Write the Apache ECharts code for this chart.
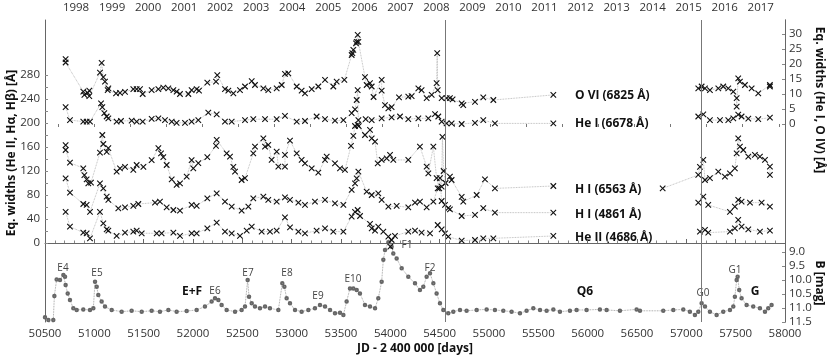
<!DOCTYPE html>
<html>
<head>
<meta charset="utf-8">
<script src="https://cdn.jsdelivr.net/npm/echarts@6/dist/echarts.min.js"></script>
<style>
  html, body { margin: 0; padding: 0; background: #fff; }
  #chart { width: 830px; height: 359px; }
</style>
</head>
<body>
<div id="chart"></div>
<script>
// Daten: [JD - 2400000, Wert]; null trennt die Linie
var yearTicks = [1998, 1999, 2000, 2001, 2002, 2003, 2004, 2005, 2006, 2007, 2008, 2009, 2010, 2011, 2012, 2013, 2014, 2015, 2016, 2017];
var ewTicks = [0, 40, 80, 120, 160, 200, 240, 280];
var rightTicks = [0, 5, 10, 15, 20, 25, 30];
var magTicks = [9.0, 9.5, 10.0, 10.5, 11.0, 11.5];
var dividers = [54554, 57155];

var ovi = [[50709,21.6],[50709,20.5],[50888,10.8],[50899,9.7],[50932,10.4],[50949,11.1],[50949,9.3],[51057,17.1],[51074,20.4],[51091,15.6],[51108,14.1],[51135,11.3],[51142,11.9],[51220,10.2],[51260,10.4],[51311,10.7],[51395,11.6],[51429,11.6],[51463,11.6],[51490,10],[51581,11.3],[51649,11.6],[51699,12.1],[51750,11.9],[51801,11.3],[51834,10.8],[51868,10],[51953,10],[51986,11.3],[52037,11.6],[52061,11.1],[52145,13.8],[52233,14.1],[52246,16.3],[52324,11.6],[52358,11.1],[52409,10.2],[52476,11.3],[52527,12.5],[52595,14.3],[52628,13],[52713,11.9],[52763,11.3],[52848,11.9],[52899,13],[52932,16.7],[52966,16.9],[53051,12.5],[53101,11.1],[53135,10.2],[53203,11.6],[53270,12.5],[53338,14.7],[53422,12.5],[53456,14.1],[53534,14.7],[53608,23],[53615,23.6],[53625,24.7],[53652,26.9],[53659,27.4],[53669,29.7],[53676,27.4],[53743,15.6],[53760,13],[53794,13.6],[53811,12.5],[53830,9],[53912,14.7],[53912,11.1],[53946,6.3],[53980,5.2],[54013,5.6],[54088,8.9],[54182,9.1],[54216,9.3],[54284,11.9],[54317,11.3],[54368,8.6],[54419,9.7],[54469,13.6],[54475,23.6],[54480,11.3],[54520,8.6],[54571,8.6],[54604,8.6],[54631,8.2],[54723,6.9],[54739,6.3],[54858,7.4],[54942,8.9],[55044,8],[55652,9.7],null,[57121,11.9],[57155,12.5],[57189,11.9],[57239,11.3],[57324,11.9],[57374,12.5],[57425,11.9],[57476,10.8],[57510,8.6],[57510,5.8],[57526,15.2],[57543,14.1],[57594,13],[57662,11.9],[57729,10.2],[57847,13],[57847,12.5]];

var hei = [[50709,5.6],[50753,1.3],[50888,0.8],[50922,0.8],[50956,0.8],[51068,6.9],[51081,5.6],[51101,3.6],[51125,2.5],[51142,1.9],[51226,0.8],[51270,1],[51378,1.1],[51429,0.8],[51490,0.8],[51581,1.7],[51649,1.9],[51716,1.3],[51784,0.8],[51834,0.4],[51919,0.4],[51986,0.8],[52054,1.3],[52155,3.8],[52240,3.2],[52324,0.8],[52392,0.8],[52527,1.3],[52611,1.6],[52730,1.6],[52848,1.6],[52932,2.7],[53051,0.8],[53135,1],[53253,2.5],[53338,1.6],[53439,1.1],[53524,1.3],[53608,3.6],[53642,4.9],[53659,8],[53669,11.3],[53676,1.3],[53680,-0.7],[53750,1.6],[53811,1.3],[53912,1.9],[54013,2.2],[54098,2.5],[54182,1.6],[54284,1.9],[54385,1.9],[54453,3.3],[54486,2.5],[54520,0.8],[54570,0.2],[54621,0.2],[54723,0],[54858,0.4],[54942,1.3],[55060,0.2],[55652,0.2],null,[57121,2.5],[57172,3.2],[57239,1.3],[57341,1.3],[57425,1.3],[57476,1.9],[57526,3.1],[57560,2.5],[57628,1.8],[57729,1.6],[57847,2.1]];

var ha = [[50709,163],[50709,155],[50753,134],[50888,124.5],[50899,113],[50922,106],[50939,99.5],[50966,100.6],[51057,150.6],[51081,180],[51091,165],[51125,152],[51142,158],[51226,119],[51260,124.5],[51311,127],[51395,121.7],[51429,130],[51497,127],[51581,138],[51649,158],[51676,149.5],[51699,143],[51733,130],[51784,106],[51834,96.7],[51868,99.5],[51936,110.6],[51986,138],[52003,124.5],[52054,133],[52145,143],[52233,161.7],[52240,171.7],[52341,149.5],[52375,144],[52409,127],[52426,119],[52493,105],[52527,108],[52611,149.5],[52628,160.6],[52713,174.5],[52730,160.6],[52763,163.4],[52797,138.4],[52848,152.3],[52865,127.3],[52932,127.3],[52932,146.7],[52983,170.6],[53051,149.5],[53101,138.4],[53135,132.8],[53203,124.5],[53270,117.3],[53338,138.4],[53355,144],[53439,132.8],[53490,124.5],[53540,121.7],[53601,161.7],[53625,178.4],[53642,195],[53669,196.7],[53743,180],[53794,188.4],[53811,174.5],[53845,169],[53872,132.8],[53912,138.4],[53963,141],[53997,146.7],[54030,138.4],[54182,138.4],[54300,160.6],[54368,127.3],[54385,116],[54436,160.6],[54469,108],[54496,91],[54520,94],[54528,177],[54540,120],[54560,100],[54604,110.6],[54621,105],[54723,77],[54739,69],[54875,80],[54959,106],[55060,91],[55652,95],null,[56760,91],[57121,113.4],[57138,127],[57172,138.4],[57189,105],[57239,108],[57324,119],[57391,110.6],[57442,116],[57492,124.5],[57510,149.5],[57526,174.5],[57543,160.6],[57577,155],[57628,144],[57695,146.7],[57746,144],[57797,138.4],[57847,127.3],[57847,113.4]];

var hb = [[50709,107.8],[50753,84],[50888,65],[50922,63.4],[50956,52],[51057,99.5],[51091,91],[51125,77.3],[51142,71.7],[51243,57.8],[51311,59.5],[51395,61.7],[51446,65],[51615,67.3],[51665,69],[51733,59.5],[51801,55],[51868,54],[51986,63.4],[52037,61.7],[52145,74.5],[52240,82.8],[52324,69],[52392,60.6],[52493,54],[52561,60.6],[52611,74.5],[52713,77.3],[52763,71.7],[52848,69],[52932,76],[52983,71.7],[53068,67.3],[53135,63.4],[53236,69],[53338,71.7],[53439,66],[53524,63.4],[53608,88.4],[53642,99.5],[53659,107.8],[53676,119],[53760,85.6],[53811,80],[53878,82.8],[53912,71.7],[53980,60.6],[54064,61.7],[54182,59.5],[54250,67.3],[54300,69],[54368,59.5],[54436,69],[54480,91],[54503,108],[54520,70],[54554,63.4],[54587,58],[54604,56],[54723,45],[54858,46.7],[54942,58],[55060,50.6],[55652,50.6],null,[57121,67.3],[57172,77.3],[57222,63.4],[57442,52],[57492,60.6],[57526,71.7],[57560,69],[57645,67.3],[57763,67.3],[57847,60.6]];

var heii = [[50709,52],[50753,27.3],[50888,17.3],[50922,16.2],[50956,7.8],[51057,52],[51091,32.8],[51125,22.8],[51142,20.6],[51226,11.7],[51311,17.3],[51395,19],[51429,20.6],[51480,16.2],[51632,16.2],[51682,16.2],[51801,17.3],[51868,11.7],[51986,16.2],[52037,16.2],[52145,24.5],[52240,34],[52324,19],[52392,16.2],[52476,11.7],[52544,20.6],[52595,27.3],[52696,19],[52780,19],[52848,20.6],[52932,42.8],[52983,26],[53068,19],[53135,16.2],[53253,20.6],[53338,24.5],[53422,19],[53524,19],[53608,44],[53642,52],[53669,55],[53693,45],[53794,31.7],[53811,24.5],[53845,20.6],[53878,27.3],[53929,19],[53980,10.6],[54000,-6],[54013,5],[54047,11.7],[54182,19],[54250,20.6],[54317,17.3],[54402,16.2],[54480,30],[54520,22.8],[54554,16.2],[54587,10.6],[54723,4],[54858,5],[54942,7.8],[55044,7.8],[55652,11.7],null,[57138,19],[57189,21.7],[57222,17.3],[57442,19],[57492,24.5],[57526,38.4],[57560,27.3],[57628,22.8],[57746,19],[57847,20.6]];

var bmag = [[50500,11.33],[50534,11.43],[50568,11.73],[50584,11.43],[50595,10.57],[50618,9.98],[50652,10],[50686,9.82],[50703,9.88],[50709,10.18],[50730,10.48],[50753,10.71],[50787,11.01],[50821,11.07],[50888,11.05],[50956,11.07],[50990,11.01],[51007,10.06],[51024,10.24],[51040,10.54],[51074,10.77],[51108,10.95],[51176,11.07],[51277,11.13],[51378,11.1],[51480,11.13],[51581,11.1],[51665,11.13],[51750,11.07],[51834,11.13],[51936,11.11],[52037,11.07],[52121,10.95],[52189,10.77],[52223,10.65],[52257,10.71],[52290,10.89],[52341,11.07],[52426,11.13],[52493,11.07],[52527,10.95],[52554,10],[52568,10.6],[52595,10.83],[52628,10.95],[52679,11.01],[52730,10.95],[52780,11.01],[52865,11.07],[52905,10.12],[52926,10.24],[52949,10.65],[52983,10.83],[53034,11.07],[53101,11.13],[53169,11.07],[53236,11.01],[53287,10.89],[53338,10.95],[53389,11.07],[53439,11.19],[53490,11.17],[53524,11.25],[53557,10.77],[53591,10.3],[53625,10.3],[53659,10.36],[53692,10.48],[53743,10.89],[53794,10.95],[53845,11.01],[53878,10.65],[53912,10.06],[53929,9.28],[53946,8.93],[53980,8.65],[54013,8.81],[54030,9.05],[54064,9.23],[54115,9.58],[54182,9.88],[54250,10.12],[54300,10.36],[54334,10.24],[54368,9.88],[54402,9.76],[54436,10.12],[54469,10.48],[54503,10.83],[54537,11.07],[54587,11.19],[54638,11.13],[54706,11.07],[54773,11.1],[54875,11.07],[54976,11.05],[55060,11.07],[55145,11.1],[55229,11.13],[55314,11.19],[55381,11.1],[55449,11.01],[55517,11.07],[55584,11.1],[55652,11.05],[55719,11.13],[55820,11.1],[55888,11.07],[55989,11.07],[56124,11.05],[56192,11.07],[56327,11.1],[56496,11.05],[56530,11.1],[56766,11.1],[56868,11.07],[56969,11.05],[57036,11.13],[57087,11.25],[57121,11.13],[57155,10.83],[57189,10.95],[57239,11.13],[57307,11.25],[57374,11.13],[57442,11.07],[57476,10.95],[57492,10.6],[57510,10],[57520,9.88],[57536,10.36],[57560,10.65],[57611,10.89],[57678,10.95],[57746,11.01],[57797,11.13],[57830,11.01],[57864,10.89]];

var chart = echarts.init(document.getElementById('chart'));

var font = 'Open Sans';
var xMark = 'path://M0,0L10,10M10,0L0,10';

function ewSeries(name, data, yIdx) {
    return {
        name: name,
        type: 'line',
        xAxisIndex: 0,
        yAxisIndex: yIdx,
        data: data,
        symbol: xMark,
        symbolSize: 5.5,
        showAllSymbol: true,
        connectNulls: false,
        itemStyle: { color: 'rgba(0,0,0,0)', borderColor: '#111', borderWidth: 1.1 },
        lineStyle: { color: '#aaa', width: 0.8, type: 'dotted' },
        animation: false,
        z: 3
    };
}

// Beschriftungen (Pixelpositionen)
var notes = [
    ['E4', 63, 268, false], ['E5', 97, 273, false], ['E+F', 192, 292, true], ['E6', 215, 291, false],
    ['E7', 248, 273, false], ['E8', 287, 273, false], ['E9', 318, 296, false], ['E10', 353, 279, false],
    ['F1', 407, 245, false], ['F2', 430, 268, false], ['Q6', 585, 292, true], ['G0', 703, 293, false],
    ['G1', 735, 270, false], ['G', 755, 292, true]
];
var lineNames = [
    ['O VI (6825 Å)', 96], ['He I (6678 Å)', 124], ['H I (6563 Å)', 190],
    ['H I (4861 Å)', 215], ['He II (4686 Å)', 238]
];

var graphics = [];
notes.forEach(function (n) {
    graphics.push({
        type: 'text', x: n[1], y: n[2],
        style: {
            text: n[0], textAlign: 'center', textVerticalAlign: 'middle',
            font: (n[3] ? 'bold 12px ' : '10px ') + font, fill: n[3] ? '#111' : '#444'
        }
    });
});
lineNames.forEach(function (n) {
    graphics.push({
        type: 'text', x: 575, y: n[1],
        style: { text: n[0], textVerticalAlign: 'middle', font: 'bold 12px ' + font, fill: '#111' }
    });
});
graphics.push(
    { type: 'text', x: 12, y: 153, rotation: Math.PI / 2,
      style: { text: 'Eq. widths (He II, Hα, Hβ) [Å]', textAlign: 'center', textVerticalAlign: 'middle', font: 'bold 12px ' + font, fill: '#111' } },
    { type: 'text', x: 819, y: 100, rotation: -Math.PI / 2,
      style: { text: 'Eq. widths (He I, O IV) [Å]', textAlign: 'center', textVerticalAlign: 'middle', font: 'bold 12px ' + font, fill: '#111' } },
    { type: 'text', x: 819, y: 283, rotation: -Math.PI / 2,
      style: { text: 'B [mag]', textAlign: 'center', textVerticalAlign: 'middle', font: 'bold 12px ' + font, fill: '#111' } },
    { type: 'text', x: 415, y: 349,
      style: { text: 'JD - 2 400 000 [days]', textAlign: 'center', textVerticalAlign: 'middle', font: 'bold 12px ' + font, fill: '#111' } }
);

var halfYears = [];
for (var i = 0; i < yearTicks.length; i++) {
    halfYears.push(yearTicks[i] - 0.5);
}
halfYears.push(2017.5);

var labelStyle = { color: '#333', fontFamily: font, fontSize: 11.5 };
var axisLineStyle = { lineStyle: { color: '#666', width: 1 } };

var option = {
    backgroundColor: '#fff',
    animation: false,
    grid: { left: 45, right: 45, top: 20, bottom: 37 },
    xAxis: [
        {
            type: 'value', position: 'bottom', min: 50500, max: 58000, interval: 500,
            axisLine: axisLineStyle,
            axisTick: { inside: true, length: 4, lineStyle: { color: '#666' } },
            minorTick: { show: true, splitNumber: 5, length: 2.5, lineStyle: { color: '#888' } },
            axisLabel: Object.assign({ margin: 6, formatter: function (v) { return String(v); } }, labelStyle),
            splitLine: { show: false }
        },
        {
            type: 'value', position: 'top', min: 1997.139, max: 2017.673,
            axisLine: { show: false },
            axisTick: { inside: true, length: 3, customValues: halfYears, lineStyle: { color: '#777' } },
            axisLabel: Object.assign({ margin: 6, customValues: yearTicks, formatter: function (v) { return String(v); } }, labelStyle),
            splitLine: { show: false }
        }
    ],
    yAxis: [
        {
            type: 'value', position: 'left', min: -131.67, max: 371.67,
            axisLine: Object.assign({ show: true }, axisLineStyle),
            axisTick: { show: true, inside: true, length: 3, customValues: [0, 20, 40, 60, 80, 100, 120, 140, 160, 180, 200, 220, 240, 260, 280], lineStyle: { color: '#888' } },
            axisLabel: Object.assign({ margin: 5, customValues: ewTicks }, labelStyle),
            splitLine: { show: false }
        },
        {
            type: 'value', position: 'right', min: -66, max: 34.67,
            axisLine: Object.assign({ show: true }, axisLineStyle),
            axisTick: { show: true, inside: true, length: 3, customValues: rightTicks, lineStyle: { color: '#888' } },
            axisLabel: Object.assign({ margin: 4, customValues: rightTicks }, labelStyle),
            splitLine: { show: false }
        },
        {
            type: 'value', position: 'right', min: 0.714, max: 11.5, inverse: true,
            axisLine: Object.assign({ show: true }, axisLineStyle),
            axisTick: { show: true, inside: true, length: 3, customValues: magTicks, lineStyle: { color: '#888' } },
            axisLabel: Object.assign({ margin: 4, customValues: magTicks, formatter: function (v) { return v.toFixed(1); } }, labelStyle),
            splitLine: { show: false }
        }
    ],
    graphic: graphics,
    series: [
        ewSeries('O VI (6825 Å)', ovi, 1),
        ewSeries('He I (6678 Å)', hei, 1),
        ewSeries('H I (6563 Å)', ha, 0),
        ewSeries('H I (4861 Å)', hb, 0),
        ewSeries('He II (4686 Å)', heii, 0),
        {
            name: 'B',
            type: 'line',
            xAxisIndex: 0,
            yAxisIndex: 2,
            data: bmag,
            symbol: 'emptyCircle',
            symbolSize: 2.5,
            showAllSymbol: true,
            itemStyle: { color: '#666', borderWidth: 0.6 },
            lineStyle: { color: '#888', width: 0.8, type: 'dotted' },
            markLine: {
                silent: true,
                symbol: 'none',
                label: { show: false },
                lineStyle: { color: '#777', width: 1, type: 'solid' },
                data: dividers.map(function (d) { return { xAxis: d }; })
            },
            z: 2
        }
    ]
};
chart.setOption(option);

window.addEventListener('resize', function () {
    chart.resize();
});
</script>
</body>
</html>
